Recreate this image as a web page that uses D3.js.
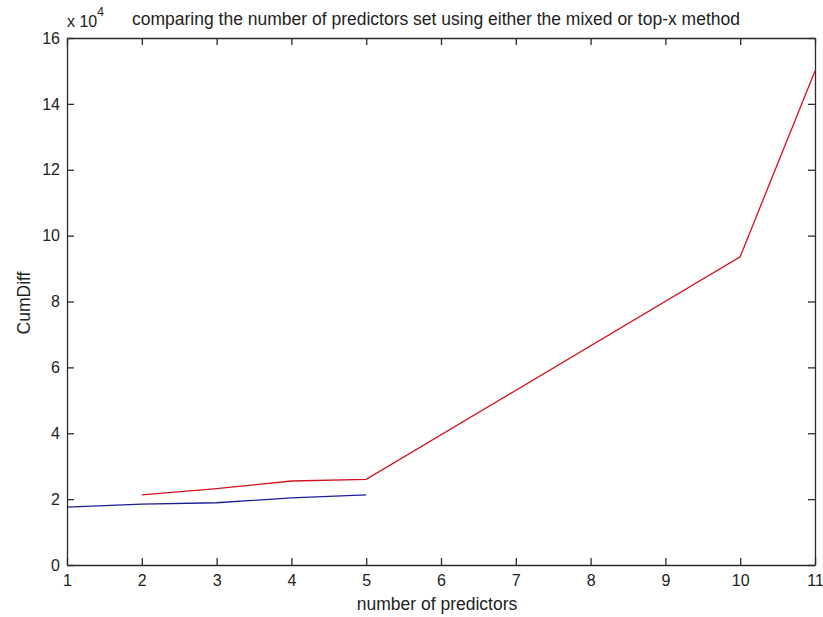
<!DOCTYPE html>
<html>
<head>
<meta charset="utf-8">
<script src="https://cdn.jsdelivr.net/npm/d3@7"></script>
<style>
  body { margin: 0; background: #fff; }
  text { font-family: "Liberation Sans", Arial, sans-serif; fill: #222; }
</style>
</head>
<body>
<svg id="chart"></svg>
<script>
var width = 823, height = 617;
var margin = {top: 38, right: 8, bottom: 52, left: 67};

// values in units of 10^4
var blueX = [1, 2, 3, 4, 5];
var blueY = [1.76, 1.85, 1.89, 2.04, 2.13];
var redX = [2, 3, 4, 5, 10, 11];
var redY = [2.13, 2.32, 2.55, 2.60, 9.36, 15.0];
var xTicks = [1, 2, 3, 4, 5, 6, 7, 8, 9, 10, 11];
var yTicks = [0, 2, 4, 6, 8, 10, 12, 14, 16];

var svg = d3.select("#chart")
    .attr("width", width)
    .attr("height", height);

var x = d3.scaleLinear().domain([1, 11]).range([margin.left, width - margin.right]);
var y = d3.scaleLinear().domain([0, 16]).range([height - margin.bottom, margin.top]);

//box + inward ticks
svg.append("g")
    .attr("transform", "translate(0," + y(0) + ")")
    .call(d3.axisBottom(x).tickValues(xTicks).tickSizeInner(-7).tickSizeOuter(0).tickPadding(10))
    .call(function(g){ g.selectAll("text").style("font-size", "16px"); });
svg.append("g")
    .attr("transform", "translate(0," + y(16) + ")")
    .call(d3.axisTop(x).tickValues(xTicks).tickSizeInner(-7).tickSizeOuter(0).tickFormat(""));
svg.append("g")
    .attr("transform", "translate(" + x(1) + ",0)")
    .call(d3.axisLeft(y).tickValues(yTicks).tickSizeInner(-7).tickSizeOuter(0).tickPadding(7))
    .call(function(g){ g.selectAll("text").style("font-size", "16px"); });
svg.append("g")
    .attr("transform", "translate(" + x(11) + ",0)")
    .call(d3.axisRight(y).tickValues(yTicks).tickSizeInner(-7).tickSizeOuter(0).tickFormat(""));

svg.selectAll(".domain, .tick line").attr("stroke", "#2a2a2a").attr("stroke-width", 1.3);
svg.selectAll(".tick text").attr("fill", "#222");

var line = d3.line()
    .x(function(d){ return x(d[0]); })
    .y(function(d){ return y(d[1]); });

svg.append("path")
    .datum(d3.zip(redX, redY))
    .attr("d", line)
    .attr("fill", "none")
    .attr("stroke", "#d4101e")
    .attr("stroke-width", 1.3);

svg.append("path")
    .datum(d3.zip(blueX, blueY))
    .attr("d", line)
    .attr("fill", "none")
    .attr("stroke", "#1c1c96")
    .attr("stroke-width", 1.3);

// exponent
var ex = svg.append("text").attr("x", 67).attr("y", 27).style("font-size", "16px");
ex.append("tspan").text("x 10");
ex.append("tspan").attr("dy", -11).style("font-size", "12px").text("4");

svg.append("text")
    .attr("x", 132).attr("y", 25)
    .style("font-size", "17.5px")
    .text("comparing the number of predictors set using either the mixed or top-x method");

svg.append("text")
    .attr("x", 437).attr("y", 610)
    .attr("text-anchor", "middle")
    .style("font-size", "17.5px")
    .text("number of predictors");

svg.append("text")
    .attr("transform", "translate(30," + 303 + ") rotate(-90)")
    .attr("text-anchor", "middle")
    .style("font-size", "17.5px")
    .text("CumDiff");
</script>
</body>
</html>
